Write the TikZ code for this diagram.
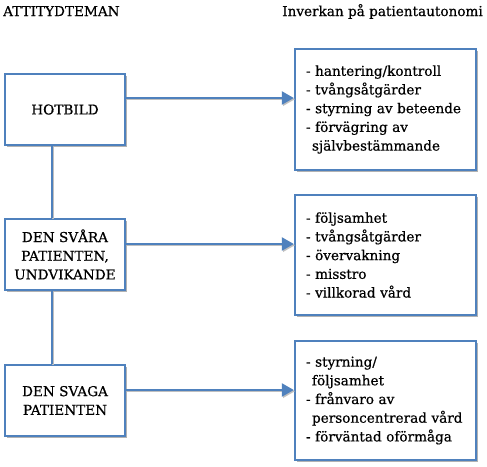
\documentclass[tikz,border=0pt]{standalone}
\usepackage{fontspec}
\setmainfont[FakeBold=0.6]{DejaVu Serif}
\usetikzlibrary{arrows.meta,shadows}
\definecolor{officeblue}{RGB}{79,129,189}
\tikzset{
  themebox/.style={draw=officeblue, line width=2.4pt, fill=white, minimum width=120pt, minimum height=71pt, align=center, inner sep=0pt,
    drop shadow={shadow xshift=1.5pt, shadow yshift=-1.5pt, opacity=0.3, fill=black}},
  effectbox/.style={draw=officeblue, line width=2.4pt, fill=white, minimum width=181pt, text width=159pt, inner xsep=11pt, align=left,
    drop shadow={shadow xshift=1.5pt, shadow yshift=-1.5pt, opacity=0.3, fill=black}},
  conn/.style={draw=officeblue, line width=2.4pt, preaction={draw=black!25, line width=2.4pt, transform canvas={xshift=1.2pt, yshift=-1.2pt}}},
  arr/.style={conn, -{Triangle[length=12pt,width=13pt]}},
  txt/.style={font=\fontsize{13.6}{18.7}\selectfont},
  title/.style={font=\fontsize{13.6}{18.7}\selectfont, inner sep=0pt}
}
\begin{document}
\begin{tikzpicture}[x=1pt,y=-1pt]
\useasboundingbox[fill=white] (0,0) rectangle (487,466);
\node[title, anchor=base west] (t1) at (3,16) {ATTITYDTEMAN};
\node[title, anchor=base east] (t2) at (483,16) {Inverkan på patientautonomi};

\node[themebox, txt] (hot) at (65,109.5) {HOTBILD};
\node[themebox, txt] (svara) at (65,254.5) {DEN SVÅRA\\PATIENTEN,\\UNDVIKANDE};
\node[themebox, txt] (svaga) at (65,400.5) {DEN SVAGA\\PATIENTEN};

\node[effectbox, txt, minimum height=121pt] (r1) at (385.5,109.5) {- hantering/kontroll\\- tvångsåtgärder\\- styrning av beteende\\- förvägring av\\\hspace*{6pt}självbestämmande};
\node[effectbox, txt, minimum height=120pt] (r2) at (385.5,255) {- följsamhet\\- tvångsåtgärder\\- övervakning\\- misstro\\- villkorad vård};
\node[effectbox, txt, minimum height=119pt] (r3) at (385.5,400.5) {- styrning/\\\hspace*{6pt}följsamhet\\- frånvaro av\\\hspace*{6pt}personcentrerad vård\\- förväntad oförmåga};

\draw[conn] ([xshift=-13pt]hot.south) -- ([xshift=-13pt]svara.north);
\draw[conn] ([xshift=-13pt]svara.south) -- ([xshift=-13pt]svaga.north);
\draw[arr] ([yshift=11.5pt]hot.east) -- ([yshift=11.5pt]hot.east -| r1.west);
\draw[arr] ([yshift=10.5pt]svara.east) -- ([yshift=10.5pt]svara.east -| r2.west);
\draw[arr] ([yshift=10.5pt]svaga.east) -- ([yshift=10.5pt]svaga.east -| r3.west);
\end{tikzpicture}
\end{document}
